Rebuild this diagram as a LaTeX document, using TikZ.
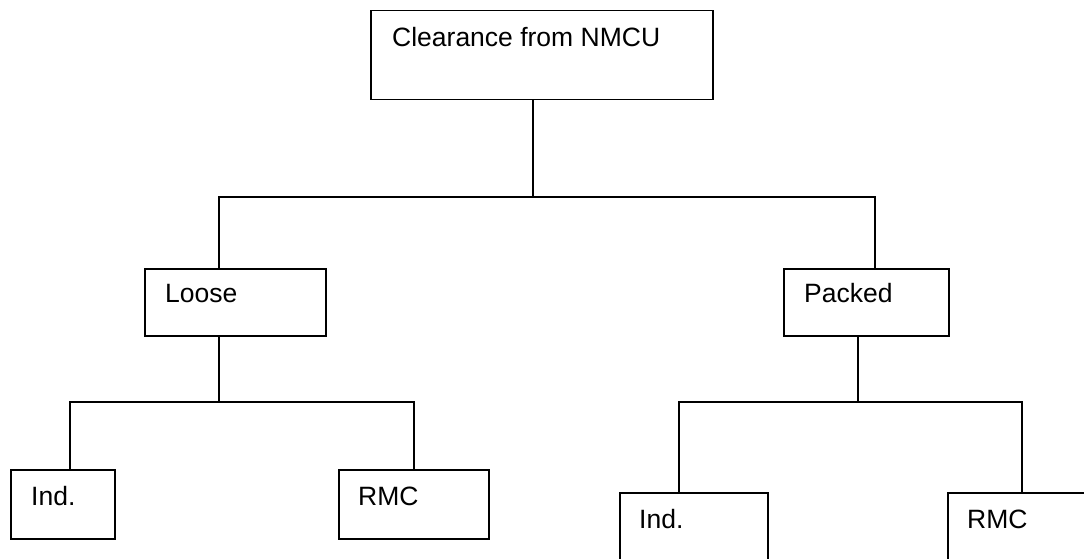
\documentclass[tikz,border=0pt]{standalone}
\usepackage{fontspec}
\setmainfont{Liberation Sans}
\begin{document}
\begin{tikzpicture}[x=1pt,y=-1pt,
  box/.style={draw,line width=1.5pt,rectangle,anchor=north west,inner sep=0pt},
  lbl/.style={anchor=base west,inner sep=0pt,font=\fontsize{26.5}{32}\selectfont},
  conn/.style={line width=1.5pt}]
\useasboundingbox (0,0) rectangle (1084,559);
\clip (0,0) rectangle (1084,559);
% boxes
\node[box,minimum width=342pt,minimum height=89pt] (top) at (370,10) {};
\node[box,minimum width=181pt,minimum height=67pt] (loose) at (144,268) {};
\node[box,minimum width=165pt,minimum height=67pt] (packed) at (783,268) {};
\node[box,minimum width=104pt,minimum height=69pt] (ind1) at (10,469) {};
\node[box,minimum width=150pt,minimum height=69pt] (rmc1) at (338,469) {};
\node[box,minimum width=148pt,minimum height=100pt] (ind2) at (619,492) {};
\node[box,minimum width=160pt,minimum height=100pt] (rmc2) at (947,492) {};
% labels
\node[lbl] (ttop) at (392,47) {Clearance from NMCU};
\node[lbl] (tloose) at (165,302) {Loose};
\node[lbl] (tpacked) at (804,302) {Packed};
\node[lbl] (tind1) at (31,505) {Ind.};
\node[lbl] (trmc1) at (358,505) {RMC};
\node[lbl] (tind2) at (639,528) {Ind.};
\node[lbl] (trmc2) at (967,528) {RMC};
% connectors
\coordinate (j1) at (533,197);
\coordinate (a1) at (219,197);
\coordinate (a2) at (875,197);
\draw[conn] (j1 |- top.south) -- (j1);
\draw[conn] (a1 |- loose.north) -- (a1) -- (a2) -- (a2 |- packed.north);
\coordinate (bm) at (219,402);
\coordinate (b1) at (70,402);
\coordinate (b2) at (414,402);
\draw[conn] (bm |- loose.south) -- (bm);
\draw[conn] (b1 |- ind1.north) -- (b1) -- (b2) -- (b2 |- rmc1.north);
\coordinate (cm) at (858,402);
\coordinate (c1) at (679,402);
\coordinate (c2) at (1022,402);
\draw[conn] (cm |- packed.south) -- (cm);
\draw[conn] (c1 |- ind2.north) -- (c1) -- (c2) -- (c2 |- rmc2.north);
\end{tikzpicture}
\end{document}
